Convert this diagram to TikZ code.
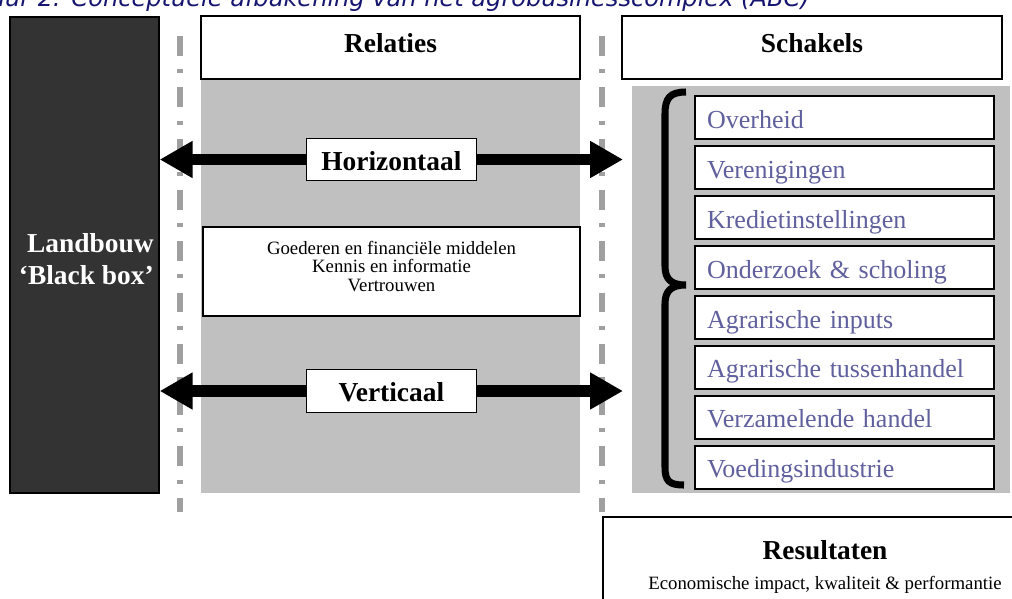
\documentclass[tikz,border=0pt]{standalone}
\usepackage{fontspec}
\setmainfont{Liberation Serif}
\newfontfamily\capfont{DejaVu Sans Oblique}
\usepackage{xcolor}
\usepackage{tikz}
\usetikzlibrary{arrows.meta,positioning}
\definecolor{BoxDark}{RGB}{51,51,51}
\definecolor{PanelGrey}{RGB}{192,192,192}
\definecolor{RuleGrey}{RGB}{160,160,160}
\definecolor{ItemBlue}{RGB}{96,96,158}
\definecolor{CapNavy}{RGB}{22,22,112}

\begin{document}
\begin{tikzpicture}[
  x=0.02cm, y=-0.02cm,
  node distance=0.14cm,
  head/.style={draw,fill=white,line width=0.8pt,minimum width=7.58cm,minimum height=1.26cm,text height=12pt,text depth=5.8pt,font=\fontsize{15.6}{18}\selectfont\bfseries},
  tag/.style={draw,fill=white,line width=0.8pt,minimum width=3.4cm,minimum height=0.85cm,inner sep=0pt,text height=12pt,text depth=0pt,font=\fontsize{15.6}{18}\selectfont\bfseries},
  item/.style={draw,fill=white,line width=0.8pt,outer sep=0pt,minimum height=0.86cm,text width=5.5cm,inner xsep=0.24cm,inner ysep=0pt,align=left,text height=12pt,text depth=0pt,text=ItemBlue,font=\fontsize{14.8}{17}\selectfont},
  bigarrow/.style={line width=6.8pt,{Triangle[length=18.7pt,width=19.8pt]}-{Triangle[length=18.7pt,width=19.8pt]}},
  divider/.style={RuleGrey,line width=3.4pt,dash pattern=on 11.3pt off 7.6pt on 2.3pt off 8pt},
  brace/.style={line width=4pt}
]
\useasboundingbox (0,0) rectangle (1012,599);
\clip (0,0) rectangle (1012,599);
\fill[PanelGrey] (201,79) rectangle (580,493);
\fill[PanelGrey] (632,86) rectangle (1010,493);
\node[draw,fill=BoxDark,line width=0.8pt,minimum width=2.98cm,minimum height=9.52cm] (landbouw) at (84.5,255) {};
\node[anchor=east,align=right,inner sep=0pt,text=white,font=\fontsize{15.6}{18}\selectfont\bfseries] (blackbox) at (154,259) {Landbouw\\‘Black box’};
\node[head] (relaties) at (390.5,47.5) {Relaties};
\node[head,minimum width=7.6cm] (schakels) at (812,47.5) {Schakels};
\draw[divider] (180,36) -- (180,512);
\draw[divider] (602,36) -- (602,512);
\node[draw,fill=white,line width=0.8pt,minimum width=7.54cm,minimum height=1.78cm,align=center,text depth=6pt,font=\fontsize{10.7}{10.5}\selectfont] (middelen) at (391.5,271.5) {Goederen en financiële middelen\\Kennis en informatie\\Vertrouwen};
\node[item] (overheid) at (844.5,117.5) {Overheid};
\node[item,below=of overheid] (verenigingen) {Verenigingen};
\node[item,below=of verenigingen] (krediet) {Kredietinstellingen};
\node[item,below=of krediet] (onderzoek) {Onderzoek \& scholing};
\node[item,below=of onderzoek] (inputs) {Agrarische inputs};
\node[item,below=of inputs] (tussenhandel) {Agrarische tussenhandel};
\node[item,below=of tussenhandel] (verzamel) {Verzamelende handel};
\node[item,below=of verzamel] (voeding) {Voedingsindustrie};
\draw[brace] (686,92) .. controls (670,92) and (665,98) .. (665,114) -- (665,266)
  .. controls (665,280) and (672,285) .. (686,285)
  .. controls (672,285) and (665,290) .. (665,304) -- (665,467)
  .. controls (665,481) and (669,485) .. (684,485);
\coordinate (hright) at (623,159.5);
\coordinate (vright) at (623,391);
\draw[bigarrow] (landbouw.east |- hright) -- node[tag] (horizontaal) {Horizontaal} (hright);
\draw[bigarrow] (landbouw.east |- vright) -- node[tag] (verticaal) {Verticaal} (vright);
\node[draw,fill=white,line width=0.8pt,minimum width=8.88cm,minimum height=2cm,align=center,font=\fontsize{10.7}{17.6}\selectfont] (resultaten) at (825,567) {{\fontsize{15.6}{17.6}\selectfont\bfseries Resultaten}\\Economische impact, kwaliteit \& performantie};
\node[anchor=base east,inner sep=0pt,text=CapNavy,font=\capfont\fontsize{13.7}{16}\selectfont] (caption) at (810,6) {Figuur 2: Conceptuele afbakening van het agrobusinesscomplex (ABC)};
\end{tikzpicture}
\end{document}
